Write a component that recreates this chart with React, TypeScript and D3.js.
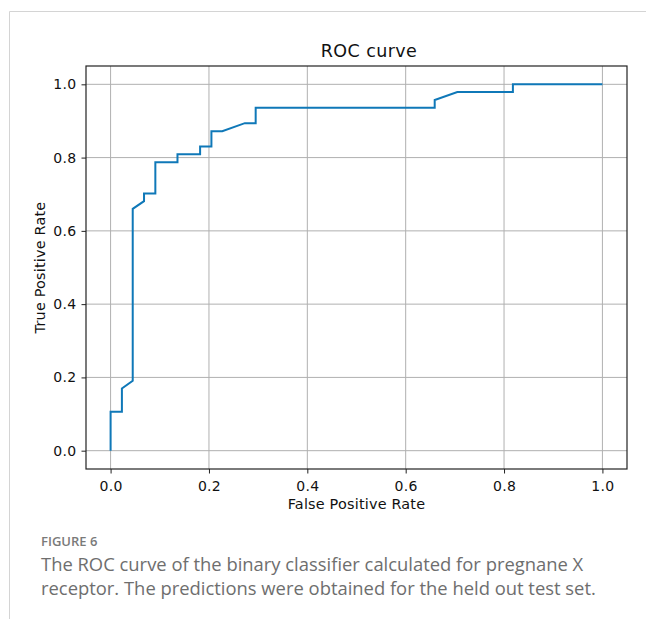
import React, { useRef, useEffect } from 'react';
import * as d3 from 'd3';

// ROC curve points
const fpr = [0, 0, 0.023, 0.023, 0.045, 0.045, 0.068, 0.068, 0.091, 0.091, 0.136, 0.136, 0.182, 0.182, 0.205, 0.205, 0.227, 0.273, 0.295, 0.295, 0.659, 0.659, 0.705, 0.818, 0.818, 1.0];
const tpr = [0, 0.106, 0.106, 0.170, 0.191, 0.660, 0.681, 0.702, 0.702, 0.787, 0.787, 0.809, 0.809, 0.830, 0.830, 0.872, 0.872, 0.894, 0.894, 0.936, 0.936, 0.957, 0.979, 0.979, 1.0, 1.0];

const xTicks = [0, 0.2, 0.4, 0.6, 0.8, 1.0];
const yTicks = [0, 0.2, 0.4, 0.6, 0.8, 1.0];

const chartTitle = 'ROC curve';
const xLabel = 'False Positive Rate';
const yLabel = 'True Positive Rate';
const figureLabel = 'FIGURE 6';
const captionLines = [
  'The ROC curve of the binary classifier calculated for pregnane X',
  'receptor. The predictions were obtained for the held out test set.'
];

const App = () => {
  const svgRef = useRef<SVGSVGElement>(null);

  useEffect(() => {
    const width = 646;
    const height = 619;
    const plotLeft = 86;
    const plotRight = 627;
    const plotTop = 66;
    const plotBottom = 469;
    const chartFont = "'DejaVu Sans', sans-serif";
    const captionFont = "'Open Sans', 'Noto Sans', sans-serif";

    const svg = d3.select(svgRef.current)
      .attr('width', width)
      .attr('height', height)
      .attr('viewBox', [0, 0, width, height]);

    svg.selectAll('*').remove();

    svg.append('rect').attr('width', width).attr('height', height).attr('fill', '#fff');

    // page frame lines
    svg.append('line')
      .attr('x1', 9.5).attr('x2', width).attr('y1', 11.5).attr('y2', 11.5)
      .attr('stroke', '#d4d4d4').attr('stroke-width', 1);
    svg.append('line')
      .attr('x1', 9.5).attr('x2', 9.5).attr('y1', 11.5).attr('y2', height)
      .attr('stroke', '#d4d4d4').attr('stroke-width', 1);

    const x = d3.scaleLinear().domain([-0.05, 1.05]).range([plotLeft, plotRight]);
    const y = d3.scaleLinear().domain([-0.05, 1.05]).range([plotBottom, plotTop]);

    // grid
    const grid = svg.append('g').attr('stroke', '#b0b0b0').attr('stroke-width', 1);
    xTicks.forEach(t => {
      grid.append('line')
        .attr('x1', x(t)).attr('x2', x(t))
        .attr('y1', plotTop).attr('y2', plotBottom);
    });
    yTicks.forEach(t => {
      grid.append('line')
        .attr('x1', plotLeft).attr('x2', plotRight)
        .attr('y1', y(t)).attr('y2', y(t));
    });

    // curve
    const points = fpr.map((f, i) => [f, tpr[i]] as [number, number]);
    const line = d3.line<[number, number]>()
      .x(d => x(d[0]))
      .y(d => y(d[1]));

    svg.append('path')
      .datum(points)
      .attr('fill', 'none')
      .attr('stroke', '#0f78b8')
      .attr('stroke-width', 2)
      .attr('stroke-linejoin', 'miter')
      .attr('d', line);

    // axes
    const xAxis = svg.append('g')
      .attr('transform', `translate(0,${plotBottom})`)
      .call(d3.axisBottom(x).tickValues(xTicks).tickFormat(d3.format('.1f')).tickSize(4.5).tickPadding(5).tickSizeOuter(0));
    const yAxis = svg.append('g')
      .attr('transform', `translate(${plotLeft},0)`)
      .call(d3.axisLeft(y).tickValues(yTicks).tickFormat(d3.format('.1f')).tickSize(4.5).tickPadding(5).tickSizeOuter(0));

    [xAxis, yAxis].forEach(ax => {
      ax.select('.domain').remove();
      ax.selectAll('line').attr('stroke', '#222').attr('stroke-width', 1);
      ax.selectAll('text')
        .attr('fill', '#111')
        .attr('font-family', chartFont)
        .attr('font-size', 14)
        .attr('letter-spacing', 0.3);
    });
    xAxis.selectAll('text').attr('y', 22).attr('dy', null);

    // spines
    svg.append('rect')
      .attr('x', plotLeft).attr('y', plotTop)
      .attr('width', plotRight - plotLeft).attr('height', plotBottom - plotTop)
      .attr('fill', 'none').attr('stroke', '#222').attr('stroke-width', 1.2);

    // title sits a little right of the axes centre in the original
    svg.append('text')
      .attr('x', 369).attr('y', 57)
      .attr('text-anchor', 'middle')
      .attr('font-family', chartFont).attr('font-size', 17.5).attr('fill', '#111')
      .attr('letter-spacing', 0.4)
      .text(chartTitle);

    svg.append('text')
      .attr('x', (plotLeft + plotRight) / 2).attr('y', 509)
      .attr('text-anchor', 'middle')
      .attr('font-family', chartFont).attr('font-size', 14.4).attr('fill', '#111')
      .attr('letter-spacing', 0.2)
      .text(xLabel);

    svg.append('text')
      .attr('transform', `translate(45,${(plotTop + plotBottom) / 2}) rotate(-90)`)
      .attr('text-anchor', 'middle')
      .attr('font-family', chartFont).attr('font-size', 14.4).attr('fill', '#111')
      .attr('letter-spacing', 0.2)
      .text(yLabel);

    // caption
    svg.append('text')
      .attr('x', 41).attr('y', 546)
      .attr('font-family', captionFont).attr('font-size', 13).attr('font-weight', 600)
      .attr('fill', '#7a7a7a')
      .text(figureLabel);

    captionLines.forEach((s, i) => {
      svg.append('text')
        .attr('x', 41).attr('y', 571 + i * 24)
        .attr('font-family', captionFont).attr('font-size', 18.4)
        .attr('fill', '#6e6e6e')
        .text(s);
    });
  }, []);

  return (
    <div style={{ position: 'absolute', left: 0, top: 0 }}>
      <svg ref={svgRef} style={{ display: 'block' }}></svg>
    </div>
  );
};

export default App;
